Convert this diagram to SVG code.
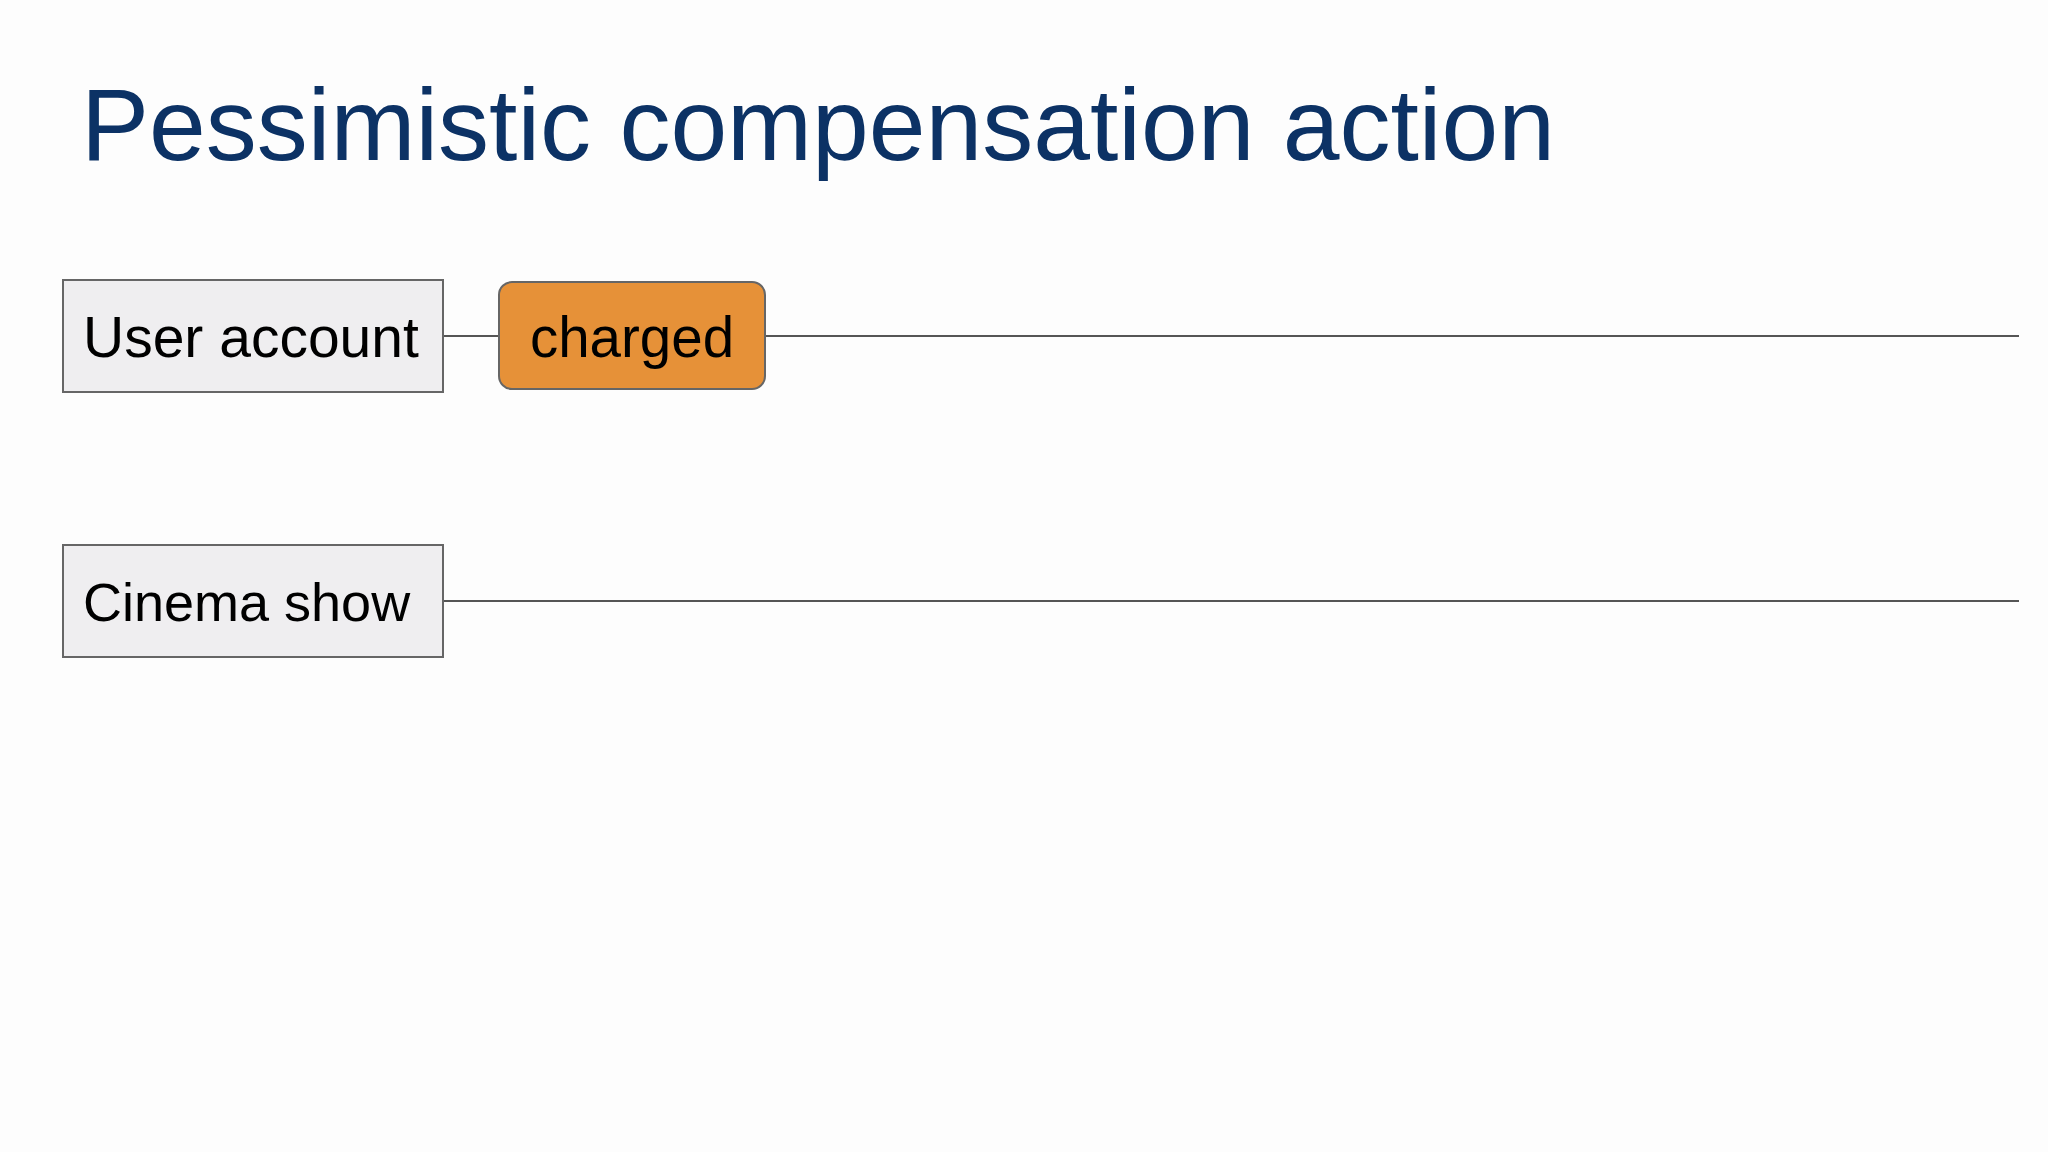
<svg xmlns="http://www.w3.org/2000/svg" width="2048" height="1152" viewBox="0 0 2048 1152">
<style>
.title{font-family:"Liberation Sans",Arial,sans-serif;font-size:102px;fill:#0c3265}
.lbl{font-family:"Liberation Sans",Arial,sans-serif;font-size:55px;fill:#000}
.lane{fill:#efeef0;stroke:#666;stroke-width:2}
.state{fill:#e69138;stroke:#666;stroke-width:2}
.conn{stroke:#555;stroke-width:2;fill:none}
</style>
<rect x="0" y="0" width="2048" height="1152" fill="#fdfdfd"/>
<text class="title" x="81" y="160">Pessimistic compensation action</text>
<g id="connectors">
<line class="conn" x1="443" y1="336" x2="499" y2="336"/>
<line class="conn" x1="765" y1="336" x2="2019" y2="336"/>
<line class="conn" x1="443" y1="601" x2="2019" y2="601"/>
</g>
<g id="user-account">
<rect class="lane" x="63" y="280" width="380" height="112"/>
<text class="lbl" x="83" y="357" style="font-size:57px">User account</text>
</g>
<g id="charged">
<rect class="state" x="499" y="282" width="266" height="107" rx="13"/>
<text class="lbl" x="632" y="357" text-anchor="middle" style="font-size:56.5px">charged</text>
</g>
<g id="cinema-show">
<rect class="lane" x="63" y="545" width="380" height="112"/>
<text class="lbl" x="83" y="621" style="font-size:54px">Cinema show</text>
</g>
</svg>
